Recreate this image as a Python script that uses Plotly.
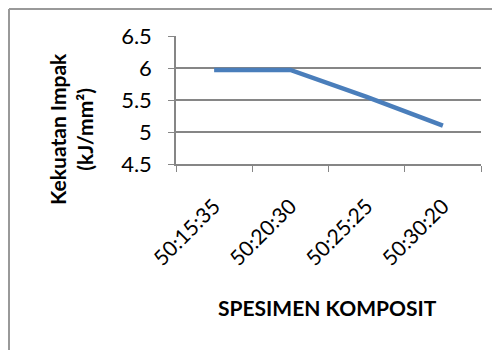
import plotly.graph_objects as go

categories = ["50:15:35", "50:20:30", "50:25:25", "50:30:20"]
values = [5.97, 5.97, 5.55, 5.10]
y_ticks = [4.5, 5, 5.5, 6, 6.5]
y_tick_text = ["4.5", "5", "5.5", "6", "6.5"]

FONT = "Lato"
# page body has an 8px margin; figure is sized so it fills the 500x350 window
OFF = 8
W, H = 500 - OFF, 350 - OFF
L, R, T, B = 176 - OFF, 19, 36 - OFF, 186
PW, PH = W - L - R, H - T - B

def px(x):
    return (x - OFF - L) / PW

def py(y):
    return (H - B - (y - OFF)) / PH

fig = go.Figure()
fig.add_trace(go.Scatter(x=categories, y=values, mode="lines",
                         line=dict(color="#4A7EBB", width=4.5)))

fig.update_layout(
    width=W, height=H,
    margin=dict(l=L, r=R, t=T, b=B, autoexpand=False),
    paper_bgcolor="white", plot_bgcolor="white",
    showlegend=False,
    font=dict(family=FONT, color="black", size=16),
)
fig.update_xaxes(
    type="category", tickson="boundaries", showgrid=False, range=[-0.5, 3.5],
    showline=True, linecolor="#868686", linewidth=1.5,
    ticks="outside", ticklen=6, tickcolor="#868686",
    tickangle=-45, tickfont=dict(size=21, family=FONT),
    ticklabelstandoff=20, automargin=False,
)
fig.update_yaxes(
    range=[4.5, 6.5], tickvals=y_ticks, ticktext=y_tick_text,
    showgrid=True, gridcolor="#868686", gridwidth=1.5,
    showline=True, linecolor="#868686", linewidth=1.5,
    ticks="outside", ticklen=6, tickcolor="#868686",
    tickfont=dict(size=22, family=FONT), zeroline=False, automargin=False,
    ticklabelstandoff=12,
)
fig.add_annotation(text="<b>Kekuatan Impak<br>(kJ/mm²)</b>", xref="paper", yref="paper",
                   x=px(71), y=py(129),
                   showarrow=False, textangle=-90, font=dict(size=21, family=FONT),
                   xanchor="center", yanchor="middle")
fig.add_annotation(text="<b>SPESIMEN KOMPOSIT</b>", xref="paper", yref="paper",
                   x=px(327), y=py(307),
                   showarrow=False, font=dict(size=21, family=FONT),
                   xanchor="center", yanchor="middle")
fig.add_shape(type="line", xref="paper", yref="paper",
              x0=px(9), x1=px(520), y0=py(9), y1=py(9),
              line=dict(color="#999999", width=2))
fig.add_shape(type="line", xref="paper", yref="paper",
              x0=px(9), x1=px(9), y0=py(9), y1=py(370),
              line=dict(color="#999999", width=2))
fig.write_html("out.html")
